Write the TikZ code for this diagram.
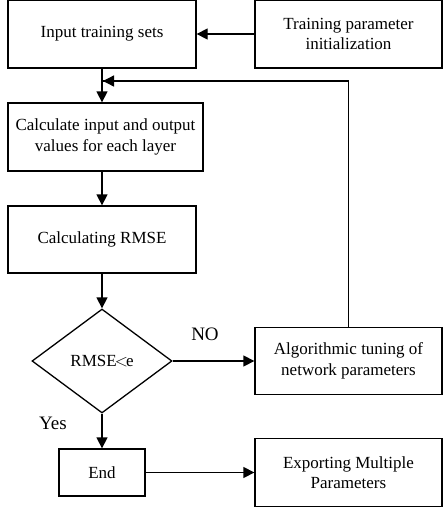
\documentclass[tikz,border=0pt]{standalone}
\usepackage{fontspec}
\setmainfont{Liberation Serif}
\usetikzlibrary{shapes.geometric,arrows.meta}

\begin{document}
\begin{tikzpicture}[x=1pt,y=-1pt,
    box/.style={draw,line width=1.3pt,align=center,inner sep=0pt,
        minimum width=187pt,minimum height=68pt,font=\fontsize{17}{20.5}\selectfont},
    decision/.style={draw,line width=1.3pt,diamond,aspect=1.35,inner sep=0pt,
        minimum width=140pt,minimum height=104pt,font=\fontsize{17}{20.5}\selectfont},
    arr/.style={line width=1.3pt,-{Triangle[length=11pt,width=11pt]}},
    lab/.style={font=\fontsize{19}{22}\selectfont}]
    \useasboundingbox (0,0) rectangle (443,507);
    \node[box,minimum width=188pt] (input) at (102,34) {Input training sets};
    \node[box] (init) at (348.5,34) {Training parameter\\initialization};
    \node[box,minimum width=195pt] (calc) at (105.5,137) {Calculate input and output\\values for each layer};
    \node[box,minimum width=188pt,minimum height=67pt] (rmse) at (102,239.5) {Calculating RMSE};
    \node[decision] (dec) at (102,361) {RMSE$\mkern-2mu<\mkern-2mu$e};
    \node[box,minimum height=67pt] (tune) at (348.5,361) {Algorithmic tuning of\\network parameters};
    \node[box,minimum width=86pt,minimum height=47pt] (end) at (102,472.5) {End};
    \node[box] (export) at (348.5,472.5) {Exporting Multiple\\Parameters};
    \coordinate (back) at (102,81);
    \node[lab] (no) at (205,334) {NO};
    \node[lab] (yes) at (53,423) {Yes};
    \draw[arr] (init) -- (input);
    \draw[arr] (input.south) -- (input.south |- calc.north);
    \draw[line width=1.3pt] (tune.north) |- (back);
    \draw[arr] (tune.north |- back) -- ([xshift=1pt]back);
    \draw[arr] (rmse.north |- calc.south) -- (rmse.north);
    \draw[arr] (rmse) -- (dec);
    \draw[arr] (dec) -- (tune);
    \draw[arr] (dec) -- (end);
    \draw[arr] (end) -- (export);
\end{tikzpicture}
\end{document}
